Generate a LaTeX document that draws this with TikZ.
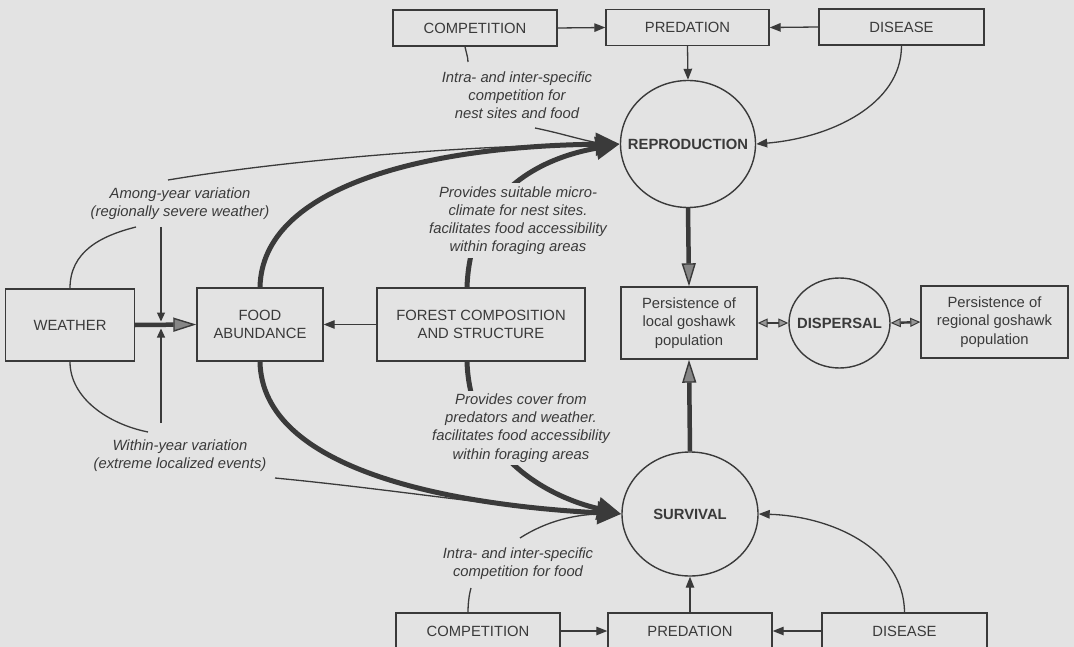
\documentclass[tikz,border=0pt]{standalone}
\usepackage{fontspec}
\setmainfont{Liberation Sans}
\usetikzlibrary{arrows.meta,shapes.geometric}
\definecolor{bg}{HTML}{E3E3E3}
\definecolor{ink}{HTML}{3A3A3A}
\begin{document}
\begin{tikzpicture}[x=1pt,y=-1pt,
  every node/.style={font=\fontsize{14.8}{18.2}\selectfont, text=ink},
  box/.style={draw=ink, line width=1.4pt, inner sep=0pt, align=center},
  oval/.style={draw=ink, line width=1.4pt, ellipse, inner xsep=-25pt, inner ysep=-10pt, align=center, font=\fontsize{14.8}{18.2}\selectfont\bfseries},
  lbl/.style={align=center, inner sep=1pt, font=\fontsize{14.8}{18.2}\selectfont\itshape},
  lblfill/.style={lbl, fill=bg, inner sep=3pt},
  thinline/.style={draw=ink, line width=1.3pt},
  thinarr/.style={thinline, -{Triangle[length=11pt,width=8.5pt]}},
  thickarr/.style={draw=ink, line width=5pt, -{Triangle[length=24pt,width=22pt]}},
  openarr/.style={draw=ink, line width=4.5pt, -{Triangle[length=23pt,width=14pt,fill=ink!55!bg,line width=1.4pt]}},
  disptip/.tip={Triangle[length=10pt,width=9pt,fill=ink!45!bg,line width=1pt]},
  disparr/.style={draw=ink, line width=2.4pt, disptip-disptip},
  smallarr/.style={thinline, -{Triangle[length=9pt,width=8pt]}}
]
\fill[bg] (0,0) rectangle (1074,647);
\useasboundingbox (0,0) rectangle (1074,647);
\clip (0,0) rectangle (1074,647);

% top row
\node[box, minimum width=164pt, minimum height=36pt] (tcomp) at (475,28) {COMPETITION};
\node[box, minimum width=163pt, minimum height=36pt] (tpred) at (687.5,27.5) {PREDATION};
\node[box, minimum width=165pt, minimum height=36pt] (tdis) at (901.5,27) {DISEASE};
\node[oval, minimum width=135pt, minimum height=127pt] (repro) at (688,144) {REPRODUCTION};

% middle row
\node[box, minimum width=129pt, minimum height=72pt] (weather) at (70,325) {WEATHER};
\node[box, minimum width=126pt, minimum height=73pt] (food) at (260,324.5) {FOOD\\ABUNDANCE};
\node[box, minimum width=208pt, minimum height=73pt] (forest) at (481,324.5) {FOREST COMPOSITION\\AND STRUCTURE};
\node[box, minimum width=136pt, minimum height=72pt] (local) at (689,323) {Persistence of\\local goshawk\\population};
\node[oval, minimum width=101pt, minimum height=90pt] (disp) at (839.5,323) {DISPERSAL};
\node[box, minimum width=147pt, minimum height=72pt] (regional) at (994.5,322) {Persistence of\\regional goshawk\\population};

% bottom row
\node[oval, minimum width=136pt, minimum height=124pt] (surv) at (690,514) {SURVIVAL};
\node[box, minimum width=164pt, minimum height=36pt] (bcomp) at (478,631) {COMPETITION};
\node[box, minimum width=164pt, minimum height=36pt] (bpred) at (690,631) {PREDATION};
\node[box, minimum width=165pt, minimum height=36pt] (bdis) at (904.5,631) {DISEASE};

% free ends
\coordinate (c1) at (468,62);
\coordinate (c2) at (535,128);
\coordinate (among) at (168,180);
\coordinate (within) at (275,478);
\coordinate (c3) at (520,538);
\coordinate (c4) at (471,588);
\coordinate (wt) at (136,227);
\coordinate (wb) at (148,432);
\coordinate (v1) at (161,227);
\coordinate (v2) at (161,423);
\coordinate (vm1) at (161,321.5);
\coordinate (vm2) at (161,328.5);

% top connections
\draw[thinarr] (tcomp.east) -- (tpred.west);
\draw[thinarr] (tdis.west) -- (tpred.east);
\draw[thinarr] (tpred.south) -- (repro.north);
\draw[thinarr] (tdis.south) .. controls (901.5,105) and (830,138) .. (repro.east);
\draw[thinline] ([xshift=-10pt]tcomp.south) .. controls (466,52) and (468,57) .. (c1);
\draw[thinline] (c2) .. controls (565,134) and (590,143) .. ([xshift=-12pt]repro.west);
\draw[thinline] (among) .. controls (300,158) and (480,145) .. ([xshift=-12pt]repro.west);
\draw[thickarr] (food.north) .. controls (262,185) and (430,146) .. (repro.west);
\draw[thickarr] (forest.north -| 467,0) .. controls (470,200) and (530,160) .. (repro.west);

% bottom connections
\draw[thinarr] (bcomp.east) -- (bpred.west);
\draw[thinarr] (bdis.west) -- (bpred.east);
\draw[thinarr] (bpred.north) -- (surv.south);
\draw[thinarr] (bdis.north) .. controls (904,548) and (830,516) .. (surv.east);
\draw[thinline] ([xshift=-10pt]bcomp.north) .. controls (468,604) and (469,595) .. (c4);
\draw[thinline] (c3) .. controls (545,522) and (575,513) .. ([xshift=-12pt]surv.west);
\draw[thinline] (within) .. controls (400,490) and (520,510) .. ([xshift=-12pt]surv.west);
\draw[thickarr] (food.south) .. controls (262,470) and (450,505) .. (surv.west);
\draw[thickarr] (forest.south -| 467,0) .. controls (470,450) and (540,495) .. (surv.west);

% weather
\draw[thinline] (weather.north) .. controls (70,252) and (100,236) .. (wt);
\draw[thinline] (weather.south) .. controls (70,398) and (108,424) .. (wb);
\draw[smallarr] (v1) -- (vm1);
\draw[smallarr] (v2) -- (vm2);
\draw[openarr] (weather.east) -- (food.west);
\draw[thinarr] (forest.west) -- (food.east);

% persistence
\draw[openarr] (repro.south) -- (local.north);
\draw[openarr] (surv.north) -- (local.south);
\draw[disparr] (local.east) -- (disp.west);
\draw[disparr] (disp.east) -- (regional.west);

% labels
\node[lbl] (lcomp1) at (517,95) {Intra- and inter-specific\\competition for\\nest sites and food};
\node[lbl] (lamong) at (180,204) {Among-year variation\\(regionally severe weather)};
\node[lbl] (lwithin) at (180,456) {Within-year variation\\(extreme localized events)};
\node[lblfill] (lmicro) at (518,220.5) {Provides suitable micro-\\climate for nest sites.\\facilitates food accessibility\\within foraging areas};
\node[lblfill] (lcover) at (521,428) {Provides cover from\\predators and weather.\\facilitates food accessibility\\within foraging areas};
\node[lbl] (lcomp2) at (518,564) {Intra- and inter-specific\\competition for food};
\end{tikzpicture}
\end{document}
